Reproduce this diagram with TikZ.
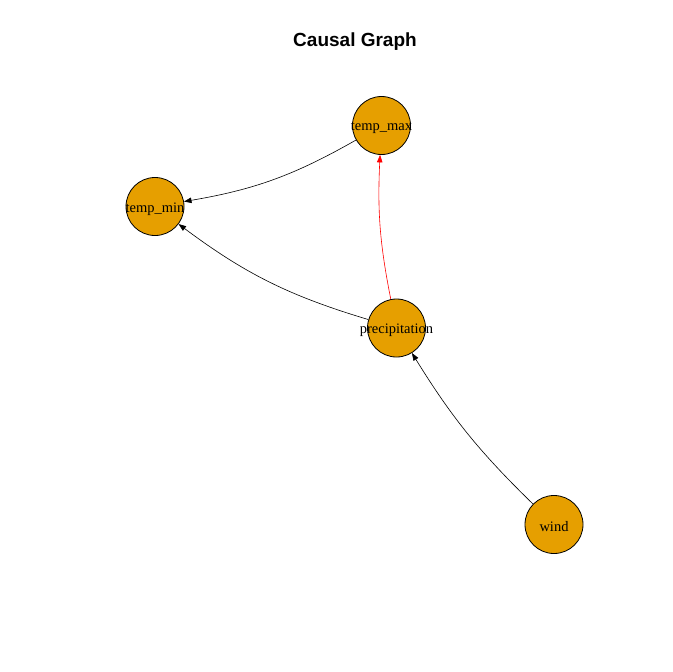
\documentclass[tikz,border=0pt]{standalone}
\usepackage{fontspec}
\setmainfont{Liberation Serif}
\newfontfamily\titlefont{Liberation Sans}
\usetikzlibrary{arrows.meta}
\definecolor{nodefill}{HTML}{E69F00}
\tikzset{
  vertex/.style={circle, draw=black, line width=0.8pt, fill=nodefill, minimum size=58pt, inner sep=0pt},
  vlabel/.style={font=\fontsize{14.5}{16}\selectfont, text=black, yshift=-2.5pt},
  edge/.style={line width=0.6pt, draw=black, -{Triangle[length=7.5pt,width=5.5pt]}},
  redge/.style={edge, draw=red, -{Triangle[length=7.5pt,width=5.5pt,fill=red]}}
}
\begin{document}
\begin{tikzpicture}[x=1pt,y=-1pt]
\useasboundingbox (0,0) rectangle (672,672);
\fill[white] (0,0) rectangle (672,672);
\node[font=\titlefont\bfseries\fontsize{19}{22}\selectfont] (title) at (355,41.5) {Causal Graph};
\node[vertex, label={[vlabel,name=ltmax]center:temp\_max}] (tmax) at (381.5,125.5) {};
\node[vertex, label={[vlabel,name=ltmin]center:temp\_min}] (tmin) at (155,206.5) {};
\node[vertex, label={[vlabel,name=lprec]center:precipitation}] (prec) at (396.5,328) {};
\node[vertex, label={[vlabel,name=lwind]center:wind}] (wind) at (554,524.5) {};
\draw[edge] (tmax) to[bend left=10] (tmin);
\draw[redge] (prec) to[bend left=7] (tmax);
\draw[edge] (prec) to[bend left=10] (tmin);
\draw[edge] (wind) to[bend left=7] (prec);
\end{tikzpicture}
\end{document}
